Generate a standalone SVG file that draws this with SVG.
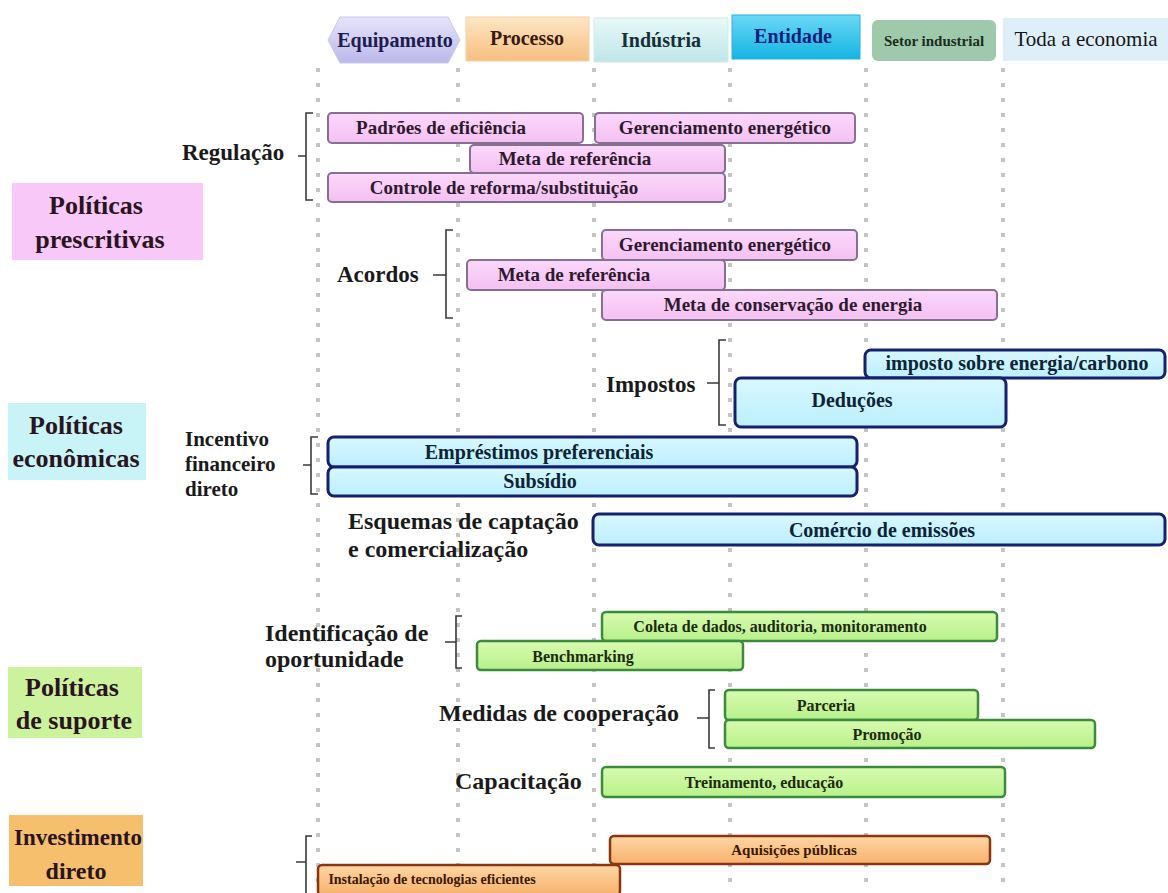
<svg xmlns="http://www.w3.org/2000/svg" width="1168" height="893" viewBox="0 0 1168 893">
<defs>
<linearGradient id="gEq" x1="0" y1="0" x2="0" y2="1"><stop offset="0" stop-color="#e6e4fa"/><stop offset="1" stop-color="#bcb8ea"/></linearGradient>
<linearGradient id="gPr" x1="0" y1="0" x2="0" y2="1"><stop offset="0" stop-color="#fde6c4"/><stop offset="1" stop-color="#f7bf80"/></linearGradient>
<linearGradient id="gIn" x1="0" y1="0" x2="0" y2="1"><stop offset="0" stop-color="#e8f8f8"/><stop offset="1" stop-color="#bfe6e8"/></linearGradient>
<linearGradient id="gEn" x1="0" y1="0" x2="0" y2="1"><stop offset="0" stop-color="#6ad8f6"/><stop offset="1" stop-color="#14b4e4"/></linearGradient>
<linearGradient id="gPink" x1="0" y1="0" x2="0" y2="1"><stop offset="0" stop-color="#fbd8fb"/><stop offset="1" stop-color="#f4c0f2"/></linearGradient>
<linearGradient id="gBlue" x1="0" y1="0" x2="0" y2="1"><stop offset="0" stop-color="#d8f8fe"/><stop offset="1" stop-color="#bcefff"/></linearGradient>
<linearGradient id="gGreen" x1="0" y1="0" x2="0" y2="1"><stop offset="0" stop-color="#d8fbb0"/><stop offset="1" stop-color="#b8f08a"/></linearGradient>
<linearGradient id="gOr" x1="0" y1="0" x2="0" y2="1"><stop offset="0" stop-color="#fdd6a4"/><stop offset="1" stop-color="#f8b26c"/></linearGradient>
</defs>
<style>
text{font-family:"Liberation Serif","DejaVu Serif",serif;font-weight:bold;}
.hd{font-size:20px;text-anchor:middle;}
.cat{font-size:26px;fill:#2a1420;text-anchor:middle;}
.lab{font-size:23px;fill:#1a1a1a;}
.lab2{font-size:21px;fill:#1a1a1a;}
.lab3{font-size:24px;fill:#1a1a1a;}
.pink{fill:url(#gPink);stroke:#857090;stroke-width:2;}
.blue{fill:url(#gBlue);stroke:#15206e;stroke-width:3;}
.green{fill:url(#gGreen);stroke:#3c8a3c;stroke-width:2.5;}
.orng{fill:url(#gOr);stroke:#8a3412;stroke-width:2.5;}
.tp{font-size:19px;fill:#2e1a2e;text-anchor:middle;}
.tb{font-size:20px;fill:#0c2436;text-anchor:middle;}
.tg{font-size:16px;fill:#1c2a10;text-anchor:middle;}
.to{font-size:15px;fill:#3a1800;text-anchor:middle;}
.dots{stroke:#c4c4c4;stroke-width:4;stroke-dasharray:4 11;fill:none;}
.br{fill:none;stroke:#3a3a3a;stroke-width:1.6;}
</style>
<rect width="1168" height="893" fill="#ffffff"/>

<g id="grid">
<line class="dots" x1="318" y1="68" x2="318" y2="893"/>
<line class="dots" x1="458" y1="68" x2="458" y2="893"/>
<line class="dots" x1="594" y1="68" x2="594" y2="893"/>
<line class="dots" x1="730" y1="68" x2="730" y2="893"/>
<line class="dots" x1="866" y1="68" x2="866" y2="893"/>
<line class="dots" x1="1003" y1="68" x2="1003" y2="893"/>
</g>

<g id="header">
<g id="h-equipamento"><path d="M340,17 H448 L460,40 L448,63 H340 L328,40 Z" fill="url(#gEq)" stroke="#c9c6ee" stroke-width="1"/><text class="hd" x="395" y="47" fill="#1e1c50">Equipamento</text></g>
<g id="h-processo"><rect x="466" y="17" width="123" height="44" fill="url(#gPr)" stroke="#f0d0a8" stroke-width="1"/><text class="hd" x="527" y="45" fill="#3a1a10">Processo</text></g>
<g id="h-industria"><rect x="594" y="18" width="134" height="44" fill="url(#gIn)" stroke="#cfeaec" stroke-width="1"/><text class="hd" x="661" y="47" fill="#15303a">Indústria</text></g>
<g id="h-entidade"><rect x="732" y="15" width="128" height="44" fill="url(#gEn)" stroke="#2ab2dc" stroke-width="1"/><text class="hd" x="793" y="43" fill="#10207a">Entidade</text></g>
<g id="h-setor"><rect x="872" y="20" width="124" height="41" rx="6" fill="#9ec9ab"/><text class="hd" x="934" y="46" fill="#1c2c1c" style="font-size:15px">Setor industrial</text></g>
<g id="h-toda"><rect x="1003" y="18" width="165" height="43" fill="#dfeff9"/><text class="hd" x="1086" y="46" fill="#151515" style="font-weight:normal;font-size:21px">Toda a economia</text></g>
</g>

<g id="categories">
<g id="cat-prescritivas"><rect x="12" y="183" width="191" height="77" fill="#f8c8f8"/><text class="cat" x="96" y="214">Políticas</text><text class="cat" x="100" y="248">prescritivas</text></g>
<g id="cat-economicas"><rect x="8" y="403" width="138" height="77" fill="#c8f4f8"/><text class="cat" x="76" y="434" fill="#141414">Políticas</text><text class="cat" x="76" y="467" fill="#141414">econômicas</text></g>
<g id="cat-suporte"><rect x="8" y="667" width="134" height="71" fill="#ccf29e"/><text class="cat" x="72" y="696" fill="#1a2010">Políticas</text><text class="cat" x="74" y="729" fill="#1a2010">de suporte</text></g>
<g id="cat-investimento"><rect x="9" y="815" width="134" height="71" fill="#f5bf6e"/><text class="cat" x="78" y="845" fill="#2a1a08" style="font-size:23px">Investimento</text><text class="cat" x="76" y="879" fill="#2a1a08" style="font-size:24px">direto</text></g>
</g>

<g id="connectors">
<path class="br" d="M313,113 H306 V200 H313 M306,156 H298"/>
<path class="br" d="M453,230 H446 V318 H453 M446,275 H433"/>
<path class="br" d="M726,340 H719 V425 H726 M719,383 H707"/>
<path class="br" d="M318,437 H311 V494 H318 M311,465 H303"/>
<path class="br" d="M462,616 H456 V668 H462 M456,642 H445"/>
<path class="br" d="M715,690 H709 V748 H715 M709,718 H697"/>
<path class="br" d="M312,836 H306 V893 M306,862 H296"/>
</g>

<g id="labels">
<text class="lab" x="182" y="160">Regulação</text>
<text class="lab" x="337" y="282">Acordos</text>
<text class="lab" x="606" y="392">Impostos</text>
<text class="lab2" x="185" y="446">Incentivo</text>
<text class="lab2" x="185" y="471">financeiro</text>
<text class="lab2" x="185" y="496">direto</text>
<text class="lab3" x="348" y="529">Esquemas de captação</text>
<text class="lab3" x="348" y="557">e comercialização</text>
<text class="lab3" x="265" y="641">Identificação de</text>
<text class="lab3" x="265" y="667">oportunidade</text>
<text class="lab3" x="439" y="721">Medidas de cooperação</text>
<text class="lab3" x="455" y="789">Capacitação</text>
</g>

<g id="bars-regulacao">
<g id="r-padroes"><rect class="pink" x="328" y="113" width="255" height="30" rx="4"/><text class="tp" x="441" y="134">Padrões de eficiência</text></g>
<g id="r-gerenciamento"><rect class="pink" x="595" y="113" width="260" height="30" rx="4"/><text class="tp" x="725" y="134">Gerenciamento energético</text></g>
<g id="r-meta"><rect class="pink" x="470" y="145" width="255" height="28" rx="4"/><text class="tp" x="575" y="165">Meta de referência</text></g>
<g id="r-controle"><rect class="pink" x="328" y="173" width="397" height="29" rx="4"/><text class="tp" x="504" y="194">Controle de reforma/substituição</text></g>
</g>

<g id="bars-acordos">
<g id="a-gerenciamento"><rect class="pink" x="602" y="230" width="255" height="30" rx="4"/><text class="tp" x="725" y="251">Gerenciamento energético</text></g>
<g id="a-meta"><rect class="pink" x="467" y="260" width="258" height="30" rx="4"/><text class="tp" x="574" y="281">Meta de referência</text></g>
<g id="a-conservacao"><rect class="pink" x="602" y="290" width="395" height="30" rx="4"/><text class="tp" x="793" y="311">Meta de conservação de energia</text></g>
</g>

<g id="bars-economicas">
<g id="e-imposto"><rect class="blue" x="865" y="350" width="300" height="28" rx="6"/><text class="tb" x="1017" y="370">imposto sobre energia/carbono</text></g>
<g id="e-deducoes"><rect class="blue" x="735" y="378" width="271" height="49" rx="6"/><text class="tb" x="852" y="407">Deduções</text></g>
<g id="e-emprestimos"><rect class="blue" x="328" y="437" width="529" height="30" rx="6"/><text class="tb" x="539" y="459">Empréstimos preferenciais</text></g>
<g id="e-subsidio"><rect class="blue" x="328" y="467" width="529" height="29" rx="6"/><text class="tb" x="540" y="488">Subsídio</text></g>
<g id="e-comercio"><rect class="blue" x="593" y="514" width="572" height="31" rx="6"/><text class="tb" x="882" y="537">Comércio de emissões</text></g>
</g>

<g id="bars-suporte">
<g id="s-coleta"><rect class="green" x="602" y="612" width="395" height="29" rx="4"/><text class="tg" x="780" y="632">Coleta de dados, auditoria, monitoramento</text></g>
<g id="s-benchmarking"><rect class="green" x="477" y="641" width="266" height="29" rx="4"/><text class="tg" x="583" y="662">Benchmarking</text></g>
<g id="s-parceria"><rect class="green" x="725" y="690" width="253" height="30" rx="4"/><text class="tg" x="826" y="711">Parceria</text></g>
<g id="s-promocao"><rect class="green" x="725" y="720" width="370" height="28" rx="4"/><text class="tg" x="887" y="740">Promoção</text></g>
<g id="s-treinamento"><rect class="green" x="602" y="767" width="403" height="30" rx="4"/><text class="tg" x="764" y="788">Treinamento, educação</text></g>
</g>

<g id="bars-investimento">
<g id="i-aquisicoes"><rect class="orng" x="610" y="836" width="380" height="28" rx="4"/><text class="to" x="794" y="855">Aquisições públicas</text></g>
<g id="i-instalacao"><rect class="orng" x="318" y="865" width="302" height="30" rx="4"/><text class="to" x="432" y="884" style="font-size:14px">Instalação de tecnologias eficientes</text></g>
</g>
</svg>
